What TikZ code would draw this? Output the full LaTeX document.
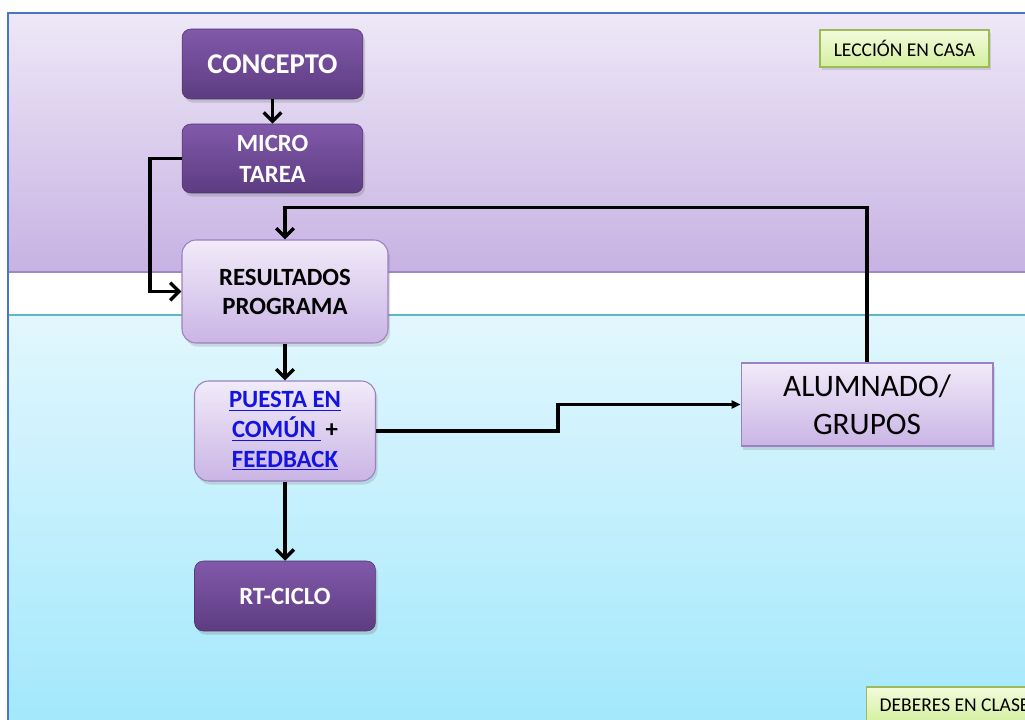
\documentclass[tikz,border=0pt]{standalone}
\usepackage{fontspec}
\setmainfont{Carlito}
\usetikzlibrary{arrows.meta,shadows}

\definecolor{bandtop}{HTML}{EEE8F7}
\definecolor{bandbot}{HTML}{C7B2E3}
\definecolor{bandline}{HTML}{9F86C6}
\definecolor{cyantop}{HTML}{E2F7FD}
\definecolor{cyanbot}{HTML}{A3E8FC}
\definecolor{cyanline}{HTML}{5BB9C9}
\definecolor{framecol}{HTML}{4A76C8}
\definecolor{darktop}{HTML}{8159AA}
\definecolor{darkbot}{HTML}{5D3C81}
\definecolor{lighttop}{HTML}{F1EBF9}
\definecolor{lightbot}{HTML}{CAB4E5}
\definecolor{lightline}{HTML}{9B80C2}
\definecolor{greentop}{HTML}{F3FBDC}
\definecolor{greenbot}{HTML}{D3EF9D}
\definecolor{greenline}{HTML}{9BBB59}
\definecolor{linkblue}{HTML}{1414E0}

\tikzset{
  darkbox/.style={rounded corners=5pt,top color=darktop,bottom color=darkbot,
    draw=darkbot!80!black,line width=.3pt,text=white,align=center,
    drop shadow={opacity=.3,shadow xshift=1.2pt,shadow yshift=-2pt}},
  lightbox/.style={rounded corners=8pt,top color=lighttop,bottom color=lightbot,
    draw=lightline,line width=.6pt,align=center,
    drop shadow={opacity=.25,shadow xshift=1.2pt,shadow yshift=-2pt}},
  groupbox/.style={top color=lighttop,bottom color=lightbot,draw=lightline,
    line width=.6pt,align=center,
    drop shadow={opacity=.25,shadow xshift=1.2pt,shadow yshift=-2pt}},
  tagbox/.style={top color=greentop,bottom color=greenbot,draw=greenline,
    line width=.6pt,font=\fontsize{11.1}{13}\selectfont,
    drop shadow={opacity=.25,shadow xshift=1pt,shadow yshift=-1.5pt}},
  flow/.style={line width=2pt,-{Straight Barb[length=5pt,width=10pt]}},
  link/.style={line width=2pt,-{Triangle[length=5pt,width=4.5pt]}},
}
\newcommand*{\lk}[1]{\textcolor{linkblue}{\underline{#1}}}

\begin{document}
\begin{tikzpicture}[x=0.02cm,y=-0.02cm]
\clip (0,0) rectangle (1025,720);

% Bands
\shade[top color=bandtop,bottom color=bandbot] (8,13) rectangle (1025,272);
\draw[line width=.8pt,bandline] (8,272) -- (1025,272);
\shade[top color=cyantop,bottom color=cyanbot] (8,315) rectangle (1025,720);
\draw[line width=.8pt,cyanline] (8,315) -- (1025,315);
\draw[line width=1.2pt,framecol] (8,720) -- (8,13) -- (1025,13);

% Labels of the bands
\node[tagbox,minimum width=3.38cm,minimum height=.74cm] (casa) at (904.5,48.5)
  {LECCIÓN EN CASA};
\node[tagbox,anchor=west,inner xsep=7.5pt,minimum height=.74cm] (clase)
  at (866,705.5) {DEBERES EN CLASE};

% Boxes
\node[darkbox,minimum width=3.62cm,minimum height=1.4cm,
  font=\fontsize{16.3}{18}\selectfont\bfseries] (concepto) at (272.5,64) {CONCEPTO};
\node[darkbox,minimum width=3.62cm,minimum height=1.38cm,
  font=\fontsize{14.1}{17.6}\selectfont\bfseries] (micro) at (272.5,158.5)
  {MICRO\\TAREA};
\node[lightbox,minimum width=4.12cm,minimum height=2.06cm,
  font=\fontsize{14.1}{16.5}\selectfont\bfseries] (result) at (285,291.5)
  {RESULTADOS\\PROGRAMA};
\node[lightbox,minimum width=3.62cm,minimum height=2cm,
  font=\fontsize{14.1}{17}\selectfont\bfseries] (puesta) at (285,431)
  {\lk{PUESTA EN}\\\lk{COMÚN\ }\,+\\\lk{FEEDBACK}};
\node[darkbox,minimum width=3.62cm,minimum height=1.4cm,
  font=\fontsize{14.1}{17}\selectfont\bfseries] (ciclo) at (285,596) {RT-CICLO};
\node[groupbox,minimum width=5.04cm,minimum height=1.66cm,
  font=\fontsize{17.8}{21.5}\selectfont] (alumnos) at (867,404.5)
  {ALUMNADO/\\GRUPOS};

% Connectors
\draw[flow] (concepto) -- (micro);
\draw[flow] (micro.west) -- ++(-32,0) |- (result.west);
\draw[flow] (alumnos.north) -- ++(0,-155) -| (result.north);
\draw[flow] (result) -- (puesta);
\draw[link] (puesta.east) -- ++(182,0) |- (alumnos.west);
\draw[flow] (puesta) -- (ciclo);
\end{tikzpicture}
\end{document}
